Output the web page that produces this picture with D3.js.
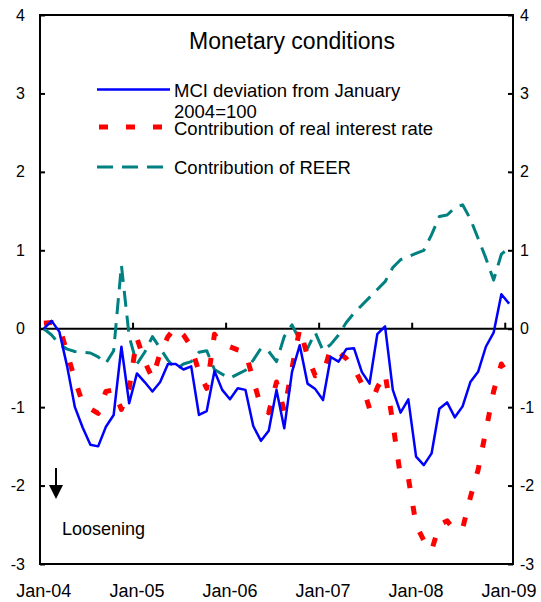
<!doctype html>
<html lang="en">
<head>
<meta charset="utf-8">
<title>Monetary conditions</title>
<script src="https://cdn.jsdelivr.net/npm/d3@7/dist/d3.min.js"></script>
<style>
    body { margin: 0; background: #fff; }
    svg text { font-family: "Liberation Sans", Arial, sans-serif; fill: #000; }
</style>
</head>
<body>
<svg width="541" height="602"></svg>
<script>
// monthly observations Jan-04 .. Jan-09
var months = d3.timeMonth.range(new Date(2004, 0, 1), new Date(2009, 0, 2)).map(d3.timeFormat("%b-%y"));
var xTickLabels = ["Jan-04", "Jan-05", "Jan-06", "Jan-07", "Jan-08", "Jan-09"];
var yTicks = [-3, -2, -1, 0, 1, 2, 3, 4];

var series = ["MCI deviation from January 2004=100", "Contribution of real interest rate", "Contribution of REER"];

var mci = [0, 0.1, -0.04, -0.48, -1.0, -1.26, -1.48, -1.5, -1.25, -1.1,
    -0.23, -0.95, -0.57, -0.68, -0.8, -0.68, -0.45, -0.45, -0.52, -0.48,
    -1.1, -1.05, -0.54, -0.78, -0.9, -0.76, -0.78, -1.24, -1.43, -1.3,
    -0.78, -1.27, -0.55, -0.21, -0.7, -0.77, -0.91, -0.36, -0.42, -0.26,
    -0.25, -0.55, -0.7, -0.07, 0.03, -0.78, -1.07, -0.9, -1.63, -1.74,
    -1.59, -1.02, -0.94, -1.13, -0.99, -0.68, -0.55, -0.23, -0.05, 0.44,
    0.32];

var realRate = [0.07, 0.08, 0.03, -0.31, -0.65, -0.95, -1.02, -1.08, -0.8, -0.78,
    -1.03, -0.76, -0.12, -0.42, -0.63, -0.31, -0.1, 0.02, -0.08, -0.23,
    -0.55, -0.76, -0.07, -0.2, -0.23, -0.27, -0.3, -0.65, -1.0, -1.07,
    -0.68, -1.05, -0.5, 0.0, -0.35, -0.6, -0.58, -0.25, -0.3, -0.38,
    -0.5, -0.7, -1.02, -0.75, -0.57, -1.2, -1.89, -1.9, -2.5, -2.7,
    -2.83, -2.5, -2.45, -2.57, -2.55, -2.15, -1.8, -1.3, -0.8, -0.45,
    -0.62];

var reer = [0, -0.08, -0.2, -0.26, -0.29, -0.3, -0.31, -0.36, -0.44, -0.28,
    0.81, -0.1, -0.45, -0.3, -0.1, -0.25, -0.4, -0.52, -0.45, -0.42,
    -0.3, -0.28, -0.52, -0.58, -0.63, -0.58, -0.53, -0.4, -0.25, -0.29,
    -0.42, -0.1, 0.05, -0.15, -0.25, -0.05, -0.28, -0.2, -0.08, 0.08,
    0.2, 0.3, 0.4, 0.5, 0.6, 0.78, 0.88, 0.92, 0.96, 1.0,
    1.2, 1.43, 1.45, 1.54, 1.58, 1.4, 1.15, 0.9, 0.62, 0.95,
    1.03];

var data = [mci, realRate, reer];
var colors = ["#0000ff", "#ff0000", "#008080"];
var widths = [2.5, 5, 3];
var dashes = [null, "9,18", "16,9"];

var svg = d3.select("svg");
var plotL = 40, plotR = 513, plotT = 15, plotB = 564;

var xScale = d3.scaleBand()
    .domain(months)
    .range([plotL, plotR])
    .padding(0);

var yScale = d3.scaleLinear()
    .domain([-3, 4])
    .range([plotB, plotT]);

var xc = function(m) { return xScale(m) + xScale.bandwidth() / 2; };

// left axis, ticks pointing inward
var yLeft = svg.append("g")
    .attr("transform", "translate(" + plotL + ",0)")
    .call(d3.axisRight(yScale).tickValues(yTicks).tickSize(5).tickFormat(""));
yLeft.select(".domain").remove();
yLeft.selectAll("line").attr("stroke", "#000").attr("stroke-width", 2);

var yRight = svg.append("g")
    .attr("transform", "translate(" + plotR + ",0)")
    .call(d3.axisLeft(yScale).tickValues(yTicks).tickSize(5).tickFormat(""));
yRight.select(".domain").remove();
yRight.selectAll("line").attr("stroke", "#000").attr("stroke-width", 2);

svg.append("g").selectAll("text")
    .data(yTicks)
    .enter().append("text")
    .attr("x", 25)
    .attr("y", function(d) { return yScale(d); })
    .attr("dy", "0.35em")
    .attr("text-anchor", "end")
    .style("font-size", "16px")
    .text(function(d) { return d; });

svg.append("g").selectAll("text")
    .data(yTicks)
    .enter().append("text")
    .attr("x", 520)
    .attr("y", function(d) { return yScale(d); })
    .attr("dy", "0.35em")
    .style("font-size", "16px")
    .text(function(d) { return d; });

// category labels at the bottom
svg.append("g").selectAll("text")
    .data(xTickLabels)
    .enter().append("text")
    .attr("x", function(d) { return xc(d); })
    .attr("y", 597)
    .attr("text-anchor", "middle")
    .style("font-size", "18px")
    .text(function(d) { return d; });

// zero line with year ticks
svg.append("line")
    .attr("x1", plotL).attr("x2", plotR)
    .attr("y1", yScale(0)).attr("y2", yScale(0))
    .attr("stroke", "#000").attr("stroke-width", 2);

svg.append("g").selectAll("line")
    .data(xTickLabels.slice(1))
    .enter().append("line")
    .attr("x1", function(d) { return xScale(d); })
    .attr("x2", function(d) { return xScale(d); })
    .attr("y1", yScale(0))
    .attr("y2", yScale(0) - 6)
    .attr("stroke", "#000").attr("stroke-width", 2);

var line = d3.line()
    .x(function(d, i) { return xc(months[i]); })
    .y(function(d) { return yScale(d); });

// draw REER and real rate first, MCI on top
[2, 1, 0].forEach(function(k) {
    svg.append("path")
        .datum(data[k])
        .attr("fill", "none")
        .attr("stroke", colors[k])
        .attr("stroke-width", widths[k])
        .attr("stroke-dasharray", dashes[k])
        .attr("stroke-linejoin", "round")
        .attr("d", line);
});

// frame
svg.append("rect")
    .attr("x", plotL).attr("y", plotT)
    .attr("width", plotR - plotL).attr("height", plotB - plotT)
    .attr("fill", "none")
    .attr("stroke", "#000").attr("stroke-width", 2);

// title and legend
svg.append("text")
    .attr("x", 292).attr("y", 49)
    .attr("text-anchor", "middle")
    .style("font-size", "23px")
    .text("Monetary conditions");

var legendY = [89.5, 127, 167];
var legendText = [["MCI deviation from January", "2004=100"], ["Contribution of real interest rate"], ["Contribution of REER"]];
var legendBase = [[97, 118], [135], [174]];

series.forEach(function(s, k) {
    svg.append("line")
        .attr("x1", k == 1 ? 99 : 97).attr("x2", 170)
        .attr("y1", legendY[k]).attr("y2", legendY[k])
        .attr("stroke", colors[k])
        .attr("stroke-width", widths[k])
        .attr("stroke-dasharray", dashes[k]);
    legendText[k].forEach(function(t, j) {
        svg.append("text")
            .attr("x", 174).attr("y", legendBase[k][j])
            .style("font-size", "18.5px")
            .text(t);
    });
});

// loosening arrow
svg.append("line")
    .attr("x1", 56).attr("x2", 56)
    .attr("y1", 468).attr("y2", 488)
    .attr("stroke", "#000").attr("stroke-width", 2);
svg.append("path")
    .attr("d", "M49,485L63,485L56,499Z")
    .attr("fill", "#000");
svg.append("text")
    .attr("x", 62).attr("y", 535)
    .style("font-size", "18px")
    .text("Loosening");
</script>
</body>
</html>
